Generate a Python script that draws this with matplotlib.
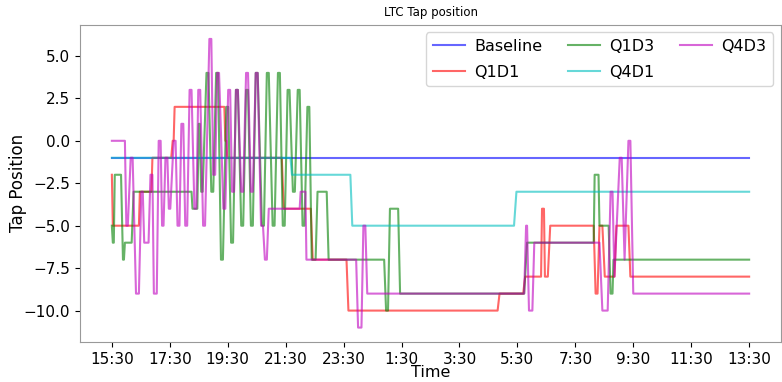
import matplotlib
matplotlib.use("Agg")
import matplotlib.pyplot as plt

# time in minutes after 15:30, tap position values
tick_min = [0, 120, 240, 360, 480, 600, 720, 840, 960, 1080, 1200, 1320]
tick_lab = ["15:30", "17:30", "19:30", "21:30", "23:30", "1:30", "3:30",
            "5:30", "7:30", "9:30", "11:30", "13:30"]

base_t = [0, 1320]
base_v = [-1, -1]

q1d1_t = [0, 2, 56, 58, 82, 84, 123, 126, 128, 130, 233, 235, 237, 239, 352, 356,
          412, 416, 486, 490, 799, 803, 852, 856, 889, 891, 895, 897, 903, 908,
          998, 1002, 1006, 1010, 1016, 1021, 1041, 1045, 1070, 1074, 1320]
q1d1_v = [-2, -5, -5, -3, -3, -1, -1, 0, 0, 2, 2, 0, 0, -1, -1, -4,
          -4, -7, -7, -10, -10, -9, -9, -8, -8, -4, -4, -8, -8, -5,
          -5, -9, -9, -5, -5, -8, -8, -5, -5, -8, -8]

q1d3_t = [0, 2, 4, 6, 19, 23, 25, 27, 41, 45, 165, 167, 177,
          180, 182, 185, 188, 196, 200, 206, 210, 216, 220, 226, 230,
          237, 241, 247, 251, 257, 261, 268, 272, 278, 282, 288, 292,
          298, 302, 311, 315, 321, 325, 333, 337, 344, 348, 354, 358,
          364, 368, 375, 379, 385, 389, 395, 399, 405, 409,
          414, 422, 426, 445, 449, 564, 568, 572, 576,
          593, 597, 854, 860, 998, 1000, 1008, 1010, 1029, 1033, 1037, 1039, 1320]
q1d3_v = [-5, -6, -6, -2, -2, -7, -7, -6, -6, -3, -3, -4, -4,
          1, 1, -3, -3, 4, 4, -3, -3, 4, 4, -7, -7,
          2, 2, -6, -6, 3, 3, -5, -5, 3, 3, -5, -5,
          4, 4, -5, -5, 4, 4, -5, -5, 4, 4, -5, -5,
          3, 3, -3, -3, 3, 3, -5, -5, 2, 2,
          -7, -7, -3, -3, -7, -7, -10, -10, -4,
          -4, -9, -9, -6, -6, -2, -2, -5, -5, -9, -9, -7, -7]

q4d1_t = [0, 370, 373, 494, 498, 833, 838, 1320]
q4d1_v = [-1, -1, -2, -2, -5, -5, -3, -3]

q4d3_t = [0, 27, 30, 33, 39, 43, 50, 56, 61, 64, 67, 76, 80, 84, 87, 93,
          97, 101, 104, 107, 111, 115, 118, 121, 128, 132, 136, 140, 144, 148,
          152, 156, 161, 165, 171, 175, 179, 183, 189, 193, 202, 206, 210, 214,
          218, 222, 231, 235, 241, 245, 249, 253, 257, 261, 268, 272, 278, 282,
          288, 292, 298, 302, 309, 313, 317, 321, 325,
          389, 391, 401, 403, 506, 510, 517, 521, 525, 529, 854, 858, 860, 864,
          871, 875, 1010, 1016, 1027, 1033, 1037, 1041, 1052, 1056, 1062, 1070,
          1074, 1080, 1320]
q4d3_v = [0, 0, -5, -5, -1, -1, -9, -9, -3, -3, -6, -6, -2, -2, -9, -9,
          0, 0, -5, -5, -1, -1, -4, -4, 0, 0, -5, -5, 1, 1,
          -5, -5, 3, 3, -4, -4, 3, 3, -5, -5, 6, 6, -2, -2,
          4, 4, -4, -4, 3, 3, -3, -3, 3, 3, -3, -3, 4, 4,
          -3, -3, 4, 4, -5, -5, -7, -7, -4,
          -4, -3, -3, -7, -7, -11, -11, -5, -5, -9, -9, -5, -5, -10,
          -10, -6, -6, -10, -10, -3, -3, -8, -1, -1, -7, 0,
          0, -9, -9]

fig = plt.figure(figsize=(7.82, 3.82), dpi=100)
ax = fig.add_axes([80 / 782, 40 / 382, 701 / 782, 317.5 / 382])

ax.plot(base_t, base_v, color="b", alpha=0.6, lw=1.5, label="Baseline")
ax.plot(q1d1_t, q1d1_v, color="r", alpha=0.6, lw=1.5, label="Q1D1")
ax.plot(q1d3_t, q1d3_v, color="g", alpha=0.6, lw=1.5, label="Q1D3")
ax.plot(q4d1_t, q4d1_v, color="c", alpha=0.6, lw=1.5, label="Q4D1")
ax.plot(q4d3_t, q4d3_v, color="m", alpha=0.6, lw=1.5, label="Q4D3")

ax.set_xticks(tick_min)
ax.set_xticklabels(tick_lab)
ax.tick_params(labelsize=11)
for s in ax.spines.values():
    s.set_color("#999999")

ax.set_title("LTC Tap position", fontsize=8.5)
ax.set_xlabel("Time", fontsize=11.5, labelpad=-1)
ax.set_ylabel("Tap Position", fontsize=12, labelpad=-2)
ax.legend(loc="upper right", ncol=3, fontsize=11.5, columnspacing=1.6,
          handletextpad=0.6, labelspacing=0.7)

fig.savefig("out.png", dpi=100)
